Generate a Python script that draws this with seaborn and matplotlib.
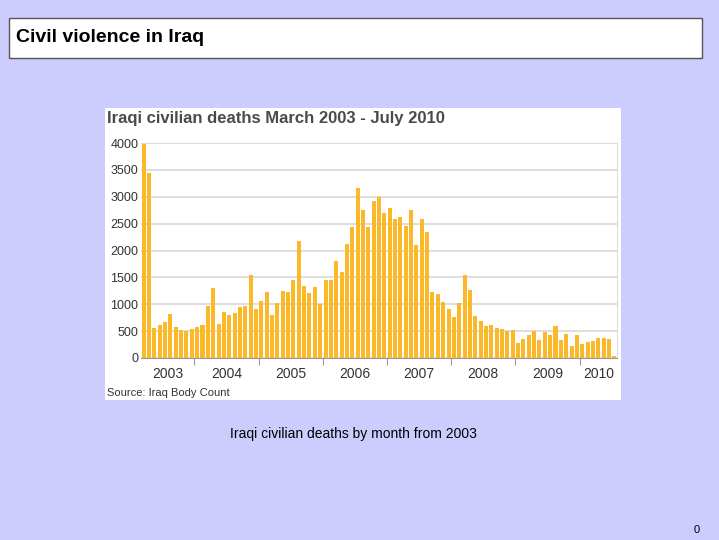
import matplotlib
matplotlib.use("Agg")
import matplotlib.pyplot as plt
import seaborn as sns
import pandas as pd
from matplotlib.patches import Rectangle

plt.rcParams["font.family"] = "Liberation Sans"

y2003 = [3980,3440,560,610,670,810,570,530,500,540]
y2004 = [580,610,970,1300,640,850,800,840,950,960,1540,920]
y2005 = [1060,1220,800,1030,1240,1230,1460,2180,1340,1210,1330,1010]
y2006 = [1450,1460,1800,1600,2120,2440,3170,2750,2440,2920,3000,2700]
y2007 = [2800,2580,2620,2460,2760,2100,2580,2340,1230,1190,1050,920]
y2008 = [760,1020,1550,1260,780,690,600,610,550,540,500,530]
y2009 = [280,360,430,500,340,490,420,600,330,440,220,430]
y2010 = [260,300,320,370,370,350,30]
years = ["2003","2004","2005","2006","2007","2008","2009","2010"]
yticks = [0,500,1000,1500,2000,2500,3000,3500,4000]

deaths = y2003+y2004+y2005+y2006+y2007+y2008+y2009+y2010
df = pd.DataFrame({"month": list(range(len(deaths))), "deaths": deaths})

W, H = 719, 540
fig = plt.figure(figsize=(W/100, H/100), dpi=100)
fig.patch.set_facecolor("#ccccff")

def fx(x): return x / W
def fy(y): return 1 - y / H

fig.patches.append(Rectangle((fx(9), fy(58)), fx(702-9), fy(18)-fy(58), transform=fig.transFigure,
                             facecolor="white", edgecolor="#555555", lw=1, zorder=-2))
fig.text(fx(16), fy(38), "Civil violence in Iraq", fontsize=14, fontweight="bold", va="center", ha="left")
fig.patches.append(Rectangle((fx(105), fy(400)), fx(621-105), fy(108)-fy(400), transform=fig.transFigure,
                             facecolor="white", edgecolor="none", zorder=-2))
fig.text(fx(107), fy(119), "Iraqi civilian deaths March 2003 - July 2010", fontsize=12,
         fontweight="bold", color="#4a4a4a", va="center", ha="left")
fig.text(fx(107), fy(393), "Source: Iraq Body Count", fontsize=8, color="#333333", va="center")
fig.text(fx(353), fy(434), "Iraqi civilian deaths by month from 2003", fontsize=10, ha="center", va="center")
fig.text(fx(697), fy(530), "0", fontsize=8, ha="center", va="center")

ax = fig.add_axes([fx(141), fy(358), fx(617-141), fy(143)-fy(358)])
ax.set_zorder(5)
ax.set_facecolor("white")
sns.barplot(data=df, x="month", y="deaths", color="#fbb829", saturation=1, width=0.75, ax=ax, zorder=3)
ax.set_ylim(0, 4000)
ax.set_xlim(-0.5, len(deaths) - 0.5)
ax.set_yticks(yticks)
ax.set_yticklabels([str(t) for t in yticks], fontsize=9, color="#333333")
ax.yaxis.grid(True, color="#d8d8d8", lw=1.2, zorder=0)
ax.set_axisbelow(True)
ax.tick_params(axis="y", length=0, pad=2)
starts = [-0.5]
n = len(y2003)
for arr in [y2004,y2005,y2006,y2007,y2008,y2009,y2010]:
    starts.append(n - 0.5); n += len(arr)
ends = starts[1:] + [len(deaths) - 0.5]
ax.set_xticks(starts[1:])
ax.set_xticklabels([""]*len(starts[1:]))
ax.tick_params(axis="x", length=5, color="#999999")
for s, e, y in zip(starts, ends, years):
    ax.text((s+e)/2, -170, y, ha="center", va="top", fontsize=10, color="#333333")
ax.set_xlabel(""); ax.set_ylabel("")
for side in ["top", "right"]:
    ax.spines[side].set_color("#dddddd")
ax.spines["left"].set_visible(False)
ax.spines["bottom"].set_color("#999999")
fig.savefig("out.png", dpi=100, facecolor=fig.get_facecolor())
